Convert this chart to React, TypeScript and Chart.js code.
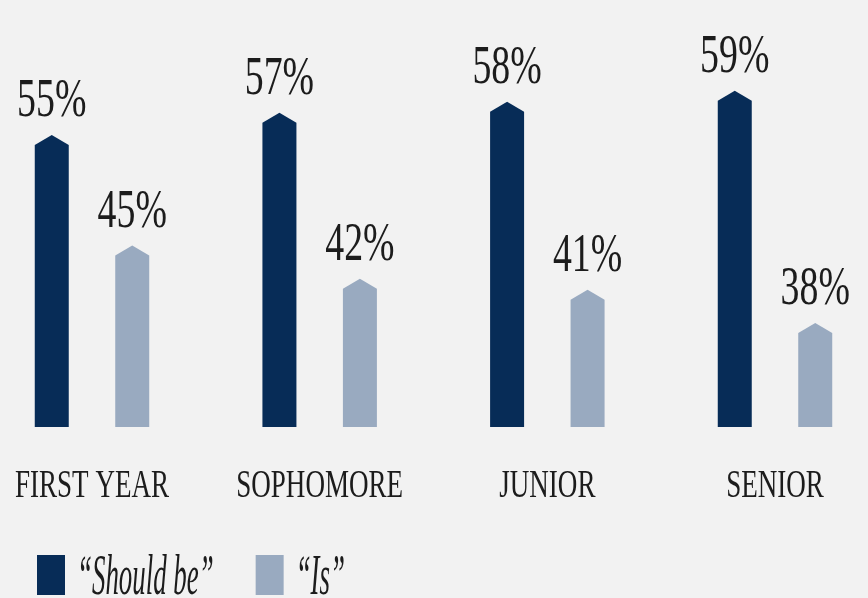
import React, { useEffect, useRef } from "react";
import { Chart, registerables } from "chart.js";

Chart.register(...registerables);

const categories = ["FIRST YEAR", "SOPHOMORE", "JUNIOR", "SENIOR"];
const shouldBeValues = [55, 57, 58, 59];
const isValues = [45, 42, 41, 38];
const seriesNames = ["\u201CShould be\u201D", "\u201CIs\u201D"];
const seriesColors = ["#072c57", "#99aac0"];

const Y_MIN = 28.6;
const Y_MAX = 67.2;
const BG = "#f2f2f2";
const TEXT = "#1c1c1c";

function drawCondensed(
  ctx: CanvasRenderingContext2D,
  text: string,
  x: number,
  y: number,
  font: string,
  sx: number,
  align: CanvasTextAlign
) {
  ctx.save();
  ctx.translate(x, y);
  ctx.scale(sx, 1);
  ctx.font = font;
  ctx.fillStyle = TEXT;
  ctx.textAlign = align;
  ctx.textBaseline = "alphabetic";
  ctx.fillText(text, 0, 0);
  ctx.restore();
}

const customPlugin = {
  id: "customDraw",
  beforeDraw(chart: any) {
    const ctx = chart.ctx;
    ctx.save();
    ctx.fillStyle = BG;
    ctx.fillRect(0, 0, chart.width, chart.height);
    ctx.restore();
  },
  afterDatasetsDraw(chart: any) {
    const ctx: CanvasRenderingContext2D = chart.ctx;
    const bottom = chart.scales.y.getPixelForValue(Y_MIN);
    chart.data.datasets.forEach((ds: any, di: number) => {
      const meta = chart.getDatasetMeta(di);
      meta.data.forEach((bar: any, i: number) => {
        const { x, y, width } = bar.getProps(["x", "y", "width"], true);
        const base = bottom;
        const half = width / 2;
        const cap = 10;
        ctx.save();
        ctx.beginPath();
        ctx.moveTo(x - half, base);
        ctx.lineTo(x - half, y + cap);
        ctx.lineTo(x, y);
        ctx.lineTo(x + half, y + cap);
        ctx.lineTo(x + half, base);
        ctx.closePath();
        ctx.fillStyle = seriesColors[di];
        ctx.fill();
        ctx.restore();
        drawCondensed(ctx, ds.data[i] + "%", x, y - 19, "54px 'Liberation Serif'", 0.7, "center");
      });
    });

    const xs = chart.scales.x;
    categories.forEach((c, i) => {
      drawCondensed(ctx, c, xs.getPixelForValue(i), 497, "41px 'Liberation Serif'", 0.66, "center");
    });

    // legend
    const legendFont = "italic 56px 'Liberation Serif'";
    const legendScale = 0.48;
    let lx = 37;
    const boxTop = 555;
    const boxW = 28;
    const boxH = 40;
    const baseline = 594;
    seriesNames.forEach((name, si) => {
      ctx.save();
      ctx.fillStyle = seriesColors[si];
      ctx.fillRect(lx, boxTop, boxW, boxH);
      ctx.restore();
      const tx = lx + boxW + 12;
      drawCondensed(ctx, name, tx, baseline, legendFont, legendScale, "left");
      ctx.save();
      ctx.font = legendFont;
      const w = ctx.measureText(name).width * legendScale;
      ctx.restore();
      lx = tx + w + 42;
    });
  },
};

export default function App() {
  const canvasRef = useRef<HTMLCanvasElement | null>(null);

  useEffect(() => {
    if (!canvasRef.current) return;
    const chart = new Chart(canvasRef.current, {
      type: "bar",
      data: {
        labels: categories,
        datasets: [
          {
            label: seriesNames[0],
            data: shouldBeValues,
            backgroundColor: "rgba(0,0,0,0)",
            base: Y_MIN,
            categoryPercentage: 0.707,
            barPercentage: 0.4224,
            clip: false as any,
          },
          {
            label: seriesNames[1],
            data: isValues,
            backgroundColor: "rgba(0,0,0,0)",
            base: Y_MIN,
            categoryPercentage: 0.707,
            barPercentage: 0.4224,
            clip: false as any,
          },
        ],
      },
      options: {
        responsive: false,
        animation: false,
        devicePixelRatio: 1,
        layout: { padding: { left: 92, right: 93, top: 0, bottom: 171 } },
        plugins: {
          legend: { display: false },
          tooltip: { enabled: false },
        },
        scales: {
          x: { type: "category", offset: false, display: false },
          y: { type: "linear", min: Y_MIN, max: Y_MAX, display: false },
        },
      },
      plugins: [customPlugin],
    });
    return () => chart.destroy();
  }, []);

  return (
    <div style={{ position: "absolute", left: 0, top: 0, width: 868, height: 598, background: BG }}>
      <canvas ref={canvasRef} width={868} height={598} style={{ display: "block" }} />
    </div>
  );
}
